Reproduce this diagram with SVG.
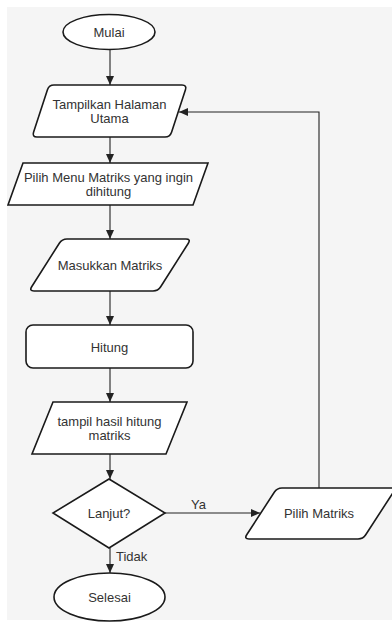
<svg xmlns="http://www.w3.org/2000/svg" width="392" height="622" viewBox="0 0 392 622">
<style>
.shape{fill:#ffffff;stroke:#1a1a1a;stroke-width:1.6;}
.lbl{font-family:"Liberation Sans",Arial,sans-serif;font-size:13px;fill:#333333;text-anchor:middle;}
.elbl{font-family:"Liberation Sans",Arial,sans-serif;font-size:13px;fill:#333333;}
.conn{fill:none;stroke:#222222;stroke-width:1.1;}
</style>
<defs>
<marker id="arr" markerUnits="userSpaceOnUse" markerWidth="10" markerHeight="10" viewBox="0 0 10 10" refX="9" refY="5" orient="auto">
<path d="M0,1 L9,5 L0,9 Z" fill="#222222"/>
</marker>
</defs>
<rect x="7" y="7" width="385" height="613" fill="#f5f5f5"/>

<g id="connectors">
<line class="conn" x1="110" y1="49.5" x2="110" y2="85" marker-end="url(#arr)"/>
<line class="conn" x1="110" y1="137" x2="110" y2="163" marker-end="url(#arr)"/>
<line class="conn" x1="110" y1="205" x2="110" y2="239" marker-end="url(#arr)"/>
<line class="conn" x1="110" y1="291" x2="110" y2="325" marker-end="url(#arr)"/>
<line class="conn" x1="110" y1="368" x2="110" y2="402" marker-end="url(#arr)"/>
<line class="conn" x1="110" y1="454" x2="110" y2="479" marker-end="url(#arr)"/>
<line class="conn" x1="165" y1="513" x2="260" y2="513" marker-end="url(#arr)"/>
<line class="conn" x1="110" y1="548" x2="110" y2="573" marker-end="url(#arr)"/>
<polyline class="conn" points="319,488 319,112 179,112" marker-end="url(#arr)"/>
<text class="elbl" x="191" y="509">Ya</text>
<text class="elbl" x="116" y="561">Tidak</text>
</g>

<g id="mulai">
<ellipse class="shape" cx="109" cy="32" rx="46" ry="17.5"/>
<text class="lbl" x="109" y="36.5">Mulai</text>
</g>

<g id="tampilkan">
<path class="shape" d="M54,85 L182,85 Q187,85 185.45,89.75 L171.55,132.25 Q170,137 165,137 L37,137 Q32,137 33.55,132.25 L47.45,89.75 Q49,85 54,85 Z"/>
<text class="lbl" x="109.5" y="109">Tampilkan Halaman</text>
<text class="lbl" x="109.5" y="123">Utama</text>
</g>

<g id="pilihmenu">
<polygon class="shape" points="23,163 208,163 193,205 8,205"/>
<text class="lbl" x="108.5" y="181.5">Pilih Menu Matriks yang ingin</text>
<text class="lbl" x="108.5" y="195.5">dihitung</text>
</g>

<g id="masukkan">
<path class="shape" d="M67,239 L186,239 Q191,239 188.32,243.22 L160.68,286.78 Q158,291 153,291 L34,291 Q29,291 31.68,286.78 L59.32,243.22 Q62,239 67,239 Z"/>
<text class="lbl" x="110" y="269.5">Masukkan Matriks</text>
</g>

<g id="hitung">
<rect class="shape" x="26" y="325" width="167" height="43" rx="7"/>
<text class="lbl" x="109.5" y="351.5">Hitung</text>
</g>

<g id="tampilhasil">
<polygon class="shape" points="53,402 187,402 166,454 32,454"/>
<text class="lbl" x="109.5" y="425.5">tampil hasil hitung</text>
<text class="lbl" x="109.5" y="439.5">matriks</text>
</g>

<g id="lanjut">
<polygon class="shape" points="109,479 165,513 109,548 53,513"/>
<text class="lbl" x="109" y="517.5">Lanjut?</text>
</g>

<g id="pilihmatriks">
<path class="shape" d="M282,488 L391,488 Q396,488 393.28,492.2 L365.72,534.8 Q363,539 358,539 L249,539 Q244,539 246.72,534.8 L274.28,492.2 Q277,488 282,488 Z"/>
<text class="lbl" x="319" y="517.5">Pilih Matriks</text>
</g>

<g id="selesai">
<ellipse class="shape" cx="109.5" cy="597" rx="55.5" ry="24"/>
<text class="lbl" x="109.5" y="601.5">Selesai</text>
</g>
</svg>
